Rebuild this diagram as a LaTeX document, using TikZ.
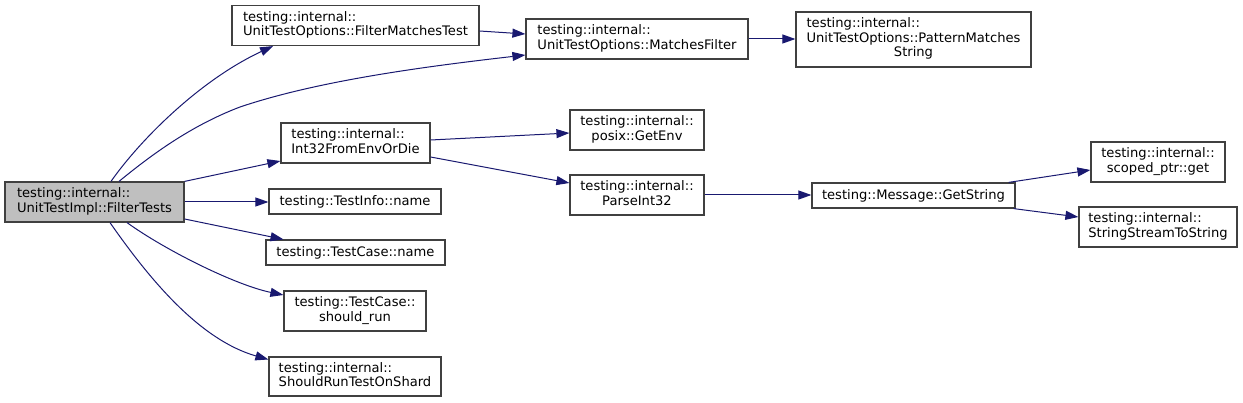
\documentclass[tikz,border=0pt]{standalone}
\usepackage{fontspec}
\setmainfont{DejaVu Sans}
\usetikzlibrary{arrows.meta}
\definecolor{edgeblue}{RGB}{25,25,112}
\definecolor{boxline}{RGB}{64,64,64}
\definecolor{boxfill}{RGB}{191,191,191}
\newcommand{\twol}[2]{\begin{tabular}{@{}l@{}}#1\\\multicolumn{1}{@{}c@{}}{#2}\end{tabular}}
\newcommand{\threel}[3]{\begin{tabular}{@{}l@{}}#1\\#2\\\multicolumn{1}{@{}c@{}}{#3}\end{tabular}}
\tikzset{
  fn/.style={draw=boxline, line width=1.2pt, fill=white, inner sep=0pt, text=black,
    font=\fontsize{13.1}{14.4}\selectfont, align=center},
  cur/.style={fn, fill=boxfill},
  call/.style={draw=edgeblue, line width=1pt, -{Triangle[length=13pt,width=9pt]}},
}
\begin{document}
\begin{tikzpicture}[x=1pt,y=-1pt]
\useasboundingbox (0,0) rectangle (1243,403);
% nodes
\node[cur, minimum width=179pt, minimum height=40pt] (A) at (94.5,202) {\twol{testing::internal::}{UnitTestImpl::FilterTests}};
\node[fn, minimum width=247pt, minimum height=40pt] (B) at (355.5,25.5) {\twol{testing::internal::}{UnitTestOptions::FilterMatchesTest}};
\node[fn, minimum width=222pt, minimum height=40pt] (C) at (637,39) {\twol{testing::internal::}{UnitTestOptions::MatchesFilter}};
\node[fn, minimum width=235pt, minimum height=55pt] (D) at (913.5,39.5) {\threel{testing::internal::}{UnitTestOptions::PatternMatches}{String}};
\node[fn, minimum width=149pt, minimum height=40pt] (E) at (355.5,143) {\twol{testing::internal::}{Int32FromEnvOrDie}};
\node[fn, minimum width=134pt, minimum height=40pt] (F) at (637,130) {\twol{testing::internal::}{posix::GetEnv}};
\node[fn, minimum width=134pt, minimum height=40pt] (G) at (637,195) {\twol{testing::internal::}{ParseInt32}};
\node[fn, minimum width=203pt, minimum height=25pt] (H) at (913.5,195.5) {testing::Message::GetString};
\node[fn, minimum width=134pt, minimum height=40pt] (I) at (1158,162) {\twol{testing::internal::}{scoped\_ptr::get}};
\node[fn, minimum width=158pt, minimum height=40pt] (J) at (1158,227) {\twol{testing::internal::}{StringStreamToString}};
\node[fn, minimum width=172pt, minimum height=25pt] (K) at (355,201.5) {testing::TestInfo::name};
\node[fn, minimum width=179pt, minimum height=25pt] (L) at (355.5,252.5) {testing::TestCase::name};
\node[fn, minimum width=142pt, minimum height=40pt] (M) at (355,311) {\twol{testing::TestCase::}{should\_run}};
\node[fn, minimum width=172pt, minimum height=39pt] (N) at (355,376.5) {\twol{testing::internal::}{ShouldRunTestOnShard}};
% edges
\draw[call] ([xshift=16.5pt]A.north) .. controls (140,140) and (200,80) .. ([xshift=-82.5pt]B.south);
\draw[call] ([xshift=24.5pt]A.north) .. controls (150,156) and (190,126) .. (240,107) .. controls (320,80) and (430,66) .. ([yshift=-16pt]C.west);
\draw[call] (A.north east) -- ([yshift=-18pt]E.west);
\draw[call] (A.east) -- (A.east -| K.west);
\draw[call] ([yshift=-17pt]A.east) -- ([xshift=-72pt]L.north);
\draw[call] ([xshift=32.5pt]A.south) .. controls (165,250) and (235,285) .. ([yshift=16pt]M.west);
\draw[call] ([xshift=15.5pt]A.south) .. controls (150,280) and (200,340) .. ([yshift=17pt]N.west);
\draw[call] ([yshift=-5.5pt]B.east) -- ([yshift=5pt]C.west);
\draw[call] (C.east) -- (C.east -| D.west);
\draw[call] ([yshift=3pt]E.east) -- ([yshift=-3pt]F.west);
\draw[call] ([yshift=-14pt]E.east) -- ([yshift=12pt]G.west);
\draw[call] (G.east) -- (G.east -| H.west);
\draw[call] ([xshift=-7pt]H.north east) -- ([yshift=-8pt]I.west);
\draw[call] ([xshift=-2pt]H.south east) -- ([yshift=10pt]J.west);
\end{tikzpicture}
\end{document}
